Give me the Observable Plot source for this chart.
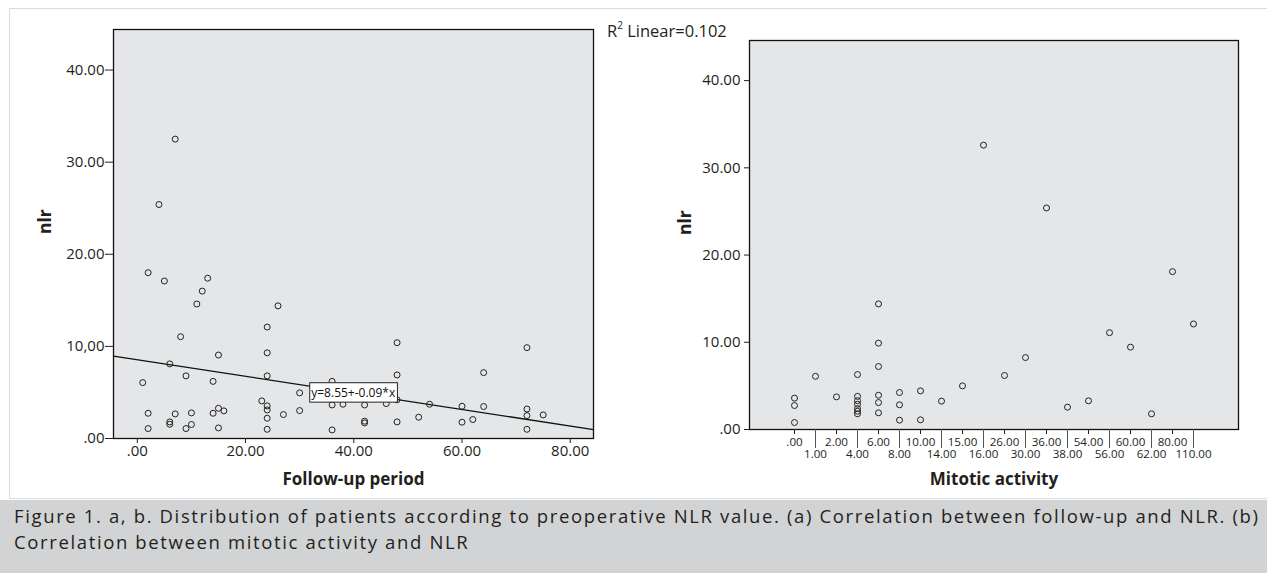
<!DOCTYPE html>
<html>
<head>
<meta charset="utf-8">
<script src="https://cdn.jsdelivr.net/npm/d3@7"></script>
<script src="https://cdn.jsdelivr.net/npm/@observablehq/plot@0.6"></script>
<style>
  body { margin: 0; background: #fff; }
  #wrap { position: relative; width: 1267px; height: 573px; overflow: hidden; font-family: "Open Sans", sans-serif; color: #231f20; background: #fff; }
  #border { position: absolute; left: 9px; top: 8px; right: -4px; height: 491px; border: 1.5px solid #dcdcdc; box-sizing: border-box; }
  #left { position: absolute; left: 0; top: 0; }
  #right { position: absolute; left: 630px; top: 0; }
  #r2 { position: absolute; left: 607px; top: 21px; font-size: 16.5px; line-height: 20px; white-space: nowrap; }
  #r2 sup { font-size: 10px; position: relative; top: -1px; vertical-align: top; line-height: 10px; }
  #caption { position: absolute; left: 0; top: 500px; width: 1267px; height: 73px; background: #d1d3d4; box-sizing: border-box; padding: 3px 9px 0 14px; font-size: 18.5px; line-height: 26px; color: #231f20; }
  #caption div { white-space: nowrap; }
</style>
</head>
<body>
<div id="wrap">
  <div id="border"></div>
  <div id="left"></div>
  <div id="right"></div>
  <div id="r2"></div>
  <div id="caption"></div>
</div>
<script>
// ---------- Panel (a): Follow-up period vs nlr ----------
const followUp = [7, 4, 2, 5, 13, 12, 11, 26, 24, 8, 15, 24, 6, 9, 24, 1, 14, 30, 23, 24, 24, 15, 16, 14, 2, 7, 10, 27, 30, 24, 6, 6, 10, 2, 9, 15, 24,
                  48, 72, 64, 48, 36, 36, 38, 42, 46, 48, 54, 60, 64, 72, 72, 75, 52, 62, 42, 42, 48, 60, 36, 72];
const nlrA = [32.5, 25.4, 18.0, 17.1, 17.4, 16.0, 14.6, 14.4, 12.1, 11.05, 9.06, 9.3, 8.1, 6.8, 6.8, 6.07, 6.2, 4.95, 4.08, 3.54, 3.1, 3.28, 3.0, 2.74, 2.74, 2.67, 2.78, 2.6, 3.03, 2.2, 1.8, 1.55, 1.52, 1.08, 1.08, 1.15, 1.0,
              10.4, 9.86, 7.15, 6.9, 6.2, 3.64, 3.72, 3.64, 3.79, 4.2, 3.72, 3.5, 3.47, 3.2, 2.49, 2.56, 2.31, 2.06, 1.88, 1.69, 1.8, 1.77, 0.93, 1.0];
const xDomainA = [-4.4, 84.3];
const yDomainA = [0, 44.4];
const xTicksA = [0, 20, 40, 60, 80];
const xTickLabelsA = [".00", "20.00", "40.00", "60.00", "80.00"];
const yTicksA = [0, 10, 20, 30, 40];
const yTickLabelsA = [".00", "10,00", "20.00", "30.00", "40.00"];
const regIntercept = 8.55;
const regSlope = -0.09;
const regLabel = "y=8.55+-0.09*x";
const regLabelAt = [39.9, 4.93];
const r2Text = "0.102";

// ---------- Panel (b): Mitotic activity vs nlr ----------
const mitoticCats = [".00", "1.00", "2.00", "4.00", "6.00", "8.00", "10.00", "14.00", "15.00", "16.00",
                     "26.00", "30.00", "36.00", "38.00", "54.00", "56.00", "60.00", "62.00", "80.00", "110.00"];
const mitoticX = [".00", ".00", ".00", "1.00", "2.00",
                  "4.00", "4.00", "4.00", "4.00", "4.00", "4.00", "4.00",
                  "6.00", "6.00", "6.00", "6.00", "6.00", "6.00",
                  "8.00", "8.00", "8.00", "10.00", "10.00", "14.00", "15.00", "16.00",
                  "26.00", "30.00", "36.00", "38.00", "54.00", "56.00", "60.00", "62.00", "80.00", "110.00"];
const nlrB = [3.6, 2.75, 0.8, 6.1, 3.74,
              6.3, 3.8, 3.3, 2.9, 2.4, 2.1, 1.8,
              14.4, 9.9, 7.22, 3.93, 3.09, 1.91,
              4.24, 2.83, 1.07, 4.43, 1.11, 3.25, 5.0, 32.6,
              6.19, 8.25, 25.4, 2.56, 3.29, 11.1, 9.44, 1.8, 18.1, 12.1];
const yDomainB = [0, 44.6];
const yTicksB = [0, 10, 20, 30, 40];
const yTickLabelsB = [".00", "10.00", "20.00", "30.00", "40.00"];

const captionLine1 = "Figure 1. a, b. Distribution of patients according to preoperative NLR value. (a) Correlation between follow-up and NLR. (b)";
const captionLine2 = "Correlation between mitotic activity and NLR";

// ---------- Build ----------
const ink = "#231f20";
const panelFill = "#e5e6e8";
const font = '"Open Sans", sans-serif';

const dataA = followUp.map((x, i) => ({x, y: nlrA[i]}));
const regLine = xDomainA.map(x => ({x, y: regIntercept + regSlope * x}));

const left = Plot.plot({
  width: 630, height: 500,
  marginLeft: 113, marginRight: 37, marginTop: 29, marginBottom: 62,
  x: {domain: xDomainA},
  y: {domain: yDomainA},
  style: {fontFamily: font, fontSize: "15px", color: ink, background: "transparent", overflow: "visible"},
  marks: [
    Plot.frame({fill: panelFill, stroke: "none"}),
    Plot.line(regLine, {x: "x", y: "y", stroke: "#111", strokeWidth: 1.3}),
    Plot.dot(dataA, {x: "x", y: "y", r: 3, stroke: "#222", strokeWidth: 1, fill: "none"}),
    Plot.text([{x: regLabelAt[0], y: regLabelAt[1], t: regLabel}], {x: "x", y: "y", text: "t", fontSize: 12, fill: "#111"}),
    Plot.frame({stroke: "#111", strokeWidth: 1.3}),
    Plot.axisY(yTicksA, {tickSize: 8, tickPadding: 1, label: null, fontSize: 15,
      tickFormat: d => yTickLabelsA[yTicksA.indexOf(d)]}),
    Plot.axisX(xTicksA, {tickSize: 5, tickPadding: 2, label: null, fontSize: 15,
      tickFormat: d => xTickLabelsA[xTicksA.indexOf(d)]}),
    Plot.text(["Follow-up period"], {frameAnchor: "bottom", dy: 41, lineAnchor: "middle", fontWeight: "bold", fontSize: 17}),
    Plot.text(["nlr"], {frameAnchor: "left", dx: -68, rotate: -90, lineAnchor: "middle", fontWeight: "bold", fontSize: 17.5})
  ]
});
document.getElementById("left").appendChild(left);

// white box behind the regression label
left.querySelectorAll("text").forEach(t => {
  if (t.textContent === regLabel) {
    const bb = t.getBBox();
    const rect = document.createElementNS("http://www.w3.org/2000/svg", "rect");
    rect.setAttribute("x", bb.x - 1.5);
    rect.setAttribute("y", bb.y - 1.2);
    rect.setAttribute("width", bb.width + 3);
    rect.setAttribute("height", bb.height + 2.4);
    rect.setAttribute("fill", "#fff");
    rect.setAttribute("stroke", "#222");
    rect.setAttribute("stroke-width", "1");
    if (t.getAttribute("transform")) rect.setAttribute("transform", t.getAttribute("transform"));
    t.parentNode.insertBefore(rect, t);
  }
});

const dataB = mitoticX.map((c, i) => ({c, y: nlrB[i]}));
const rowA = mitoticCats.filter((c, i) => i % 2 === 0);
const rowB = mitoticCats.filter((c, i) => i % 2 === 1);

const right = Plot.plot({
  width: 637, height: 500,
  marginLeft: 119, marginRight: 29, marginTop: 40, marginBottom: 71,
  x: {type: "point", domain: mitoticCats, padding: 1.64},
  y: {domain: yDomainB},
  style: {fontFamily: font, fontSize: "15px", color: ink, background: "transparent", overflow: "visible"},
  marks: [
    Plot.frame({fill: panelFill, stroke: "none"}),
    Plot.dot(dataB, {x: "c", y: "y", r: 3, stroke: "#222", strokeWidth: 1, fill: "none"}),
    Plot.frame({stroke: "#111", strokeWidth: 1.3}),
    Plot.axisY(yTicksB, {tickSize: 5, tickPadding: 4, label: null, fontSize: 15,
      tickFormat: d => yTickLabelsB[yTicksB.indexOf(d)]}),
    Plot.axisX(rowA, {tickSize: 5, tickPadding: 3, label: null, fontSize: 11.6}),
    Plot.axisX(rowB, {tickSize: 19, tickPadding: 1, label: null, fontSize: 11.6, stroke: "#555"}),
    Plot.text(["Mitotic activity"], {frameAnchor: "bottom", dy: 50, lineAnchor: "middle", fontWeight: "bold", fontSize: 17}),
    Plot.text(["nlr"], {frameAnchor: "left", dx: -64, rotate: -90, lineAnchor: "middle", fontWeight: "bold", fontSize: 17.5})
  ]
});
document.getElementById("right").appendChild(right);

document.getElementById("r2").innerHTML = "R<sup>2</sup> Linear=" + r2Text;

// caption: first line stretched to the full width (as in the reference)
const cap = document.getElementById("caption");
const l1 = document.createElement("div");
const l2 = document.createElement("div");
l2.textContent = captionLine2;
const probe = document.createElement("span");
probe.textContent = captionLine1;
l1.appendChild(probe);
cap.appendChild(l1);
cap.appendChild(l2);
const natural = probe.getBoundingClientRect().width;
const target = 1244;
const ls = Math.max(0, (target - natural) / (captionLine1.length - 1));
l1.style.letterSpacing = ls + "px";
l2.style.letterSpacing = ls + "px";
</script>
</body>
</html>
